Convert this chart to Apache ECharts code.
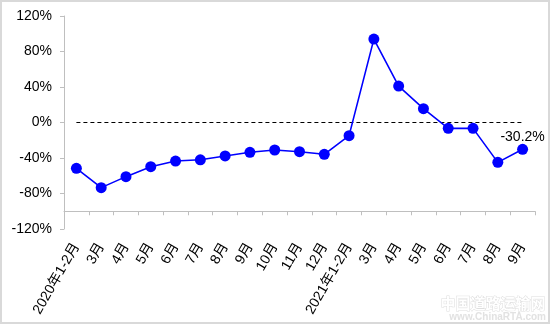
<!DOCTYPE html>
<html>
<head>
<meta charset="utf-8">
<script src="https://cdn.jsdelivr.net/npm/echarts@6/dist/echarts.min.js"></script>
<style>
html,body{margin:0;padding:0;background:#fff;}
#c{width:550px;height:324px;}
</style>
</head>
<body>
<div id="c"></div>
<script>
var categories = ['2020年1-2月','3月','4月','5月','6月','7月','8月','9月','10月','11月','12月','2021年1-2月','3月','4月','5月','6月','7月','8月','9月'];
var growthValues = [-51.6, -73.4, -61.0, -49.8, -43.4, -42.0, -37.7, -33.6, -31.0, -32.9, -35.8, -14.8, 94.0, 41.0, 15.6, -6.6, -6.6, -44.9, -30.2];
var zeroLine = [0,0,0,0,0,0,0,0,0,0,0,0,0,0,0,0,0,0,0];
var yTicks = {min: -120, max: 120, interval: 40};

var FONT = '"Liberation Sans", Arial, "Noto Sans CJK SC", sans-serif';
var chart = echarts.init(document.getElementById('c'), null, {renderer: 'canvas'});
var gridH = 213;
var option = {
  animation: false,
  backgroundColor: '#fff',
  textStyle: {fontFamily: FONT},
  grid: {left: 64, right: 15, top: 16, bottom: 95, containLabel: false},
  xAxis: {
    type: 'category',
    data: categories,
    boundaryGap: true,
    position: 'bottom',
    offset: -gridH * 20 / 240,
    axisLine: {onZero: false, lineStyle: {color: '#bfbfbf', width: 1}},
    axisTick: {show: true, length: 4, lineStyle: {color: '#bfbfbf'}},
    axisLabel: {rotate: 60, margin: 33, color: '#000', fontSize: 14, fontFamily: FONT, interval: 0}
  },
  yAxis: {
    type: 'value',
    min: yTicks.min, max: yTicks.max, interval: yTicks.interval,
    axisLine: {show: true, lineStyle: {color: '#bfbfbf', width: 1}},
    axisTick: {show: true, length: 4, lineStyle: {color: '#bfbfbf'}},
    splitLine: {show: false},
    axisLabel: {formatter: '{value}%', color: '#000', fontSize: 14, margin: 12, fontFamily: FONT}
  },
  series: [
    {
      type: 'line',
      data: zeroLine,
      symbol: 'none',
      lineStyle: {color: '#000', width: 1.2, type: [4, 3]},
      z: 1,
      silent: true
    },
    {
      type: 'line',
      data: growthValues,
      symbol: 'circle',
      symbolSize: 11,
      itemStyle: {color: '#0000ff'},
      lineStyle: {color: '#0000ff', width: 1.6},
      z: 3,
      label: {
        show: true,
        position: 'top',
        distance: 0,
        color: '#000',
        fontSize: 14,
        fontFamily: FONT,
        formatter: function (p) {
          return p.dataIndex === growthValues.length - 1 ? p.value.toFixed(1) + '%' : '';
        }
      }
    }
  ],
  graphic: [
    {type: 'rect', shape: {x: 1, y: 1, width: 548, height: 322}, style: {fill: 'none', stroke: '#d9d9d9', lineWidth: 2}, z: 100},
    {type: 'text', right: 4, bottom: 13, style: {text: '中国道路运输网', fill: '#ffffff', stroke: '#dedede', lineWidth: 1, font: 'bold 15px "Noto Sans CJK SC", sans-serif'}, z: 100},
    {type: 'text', right: 4, bottom: 2, style: {text: 'www.ChinaRTA.com', fill: '#e2e2e2', font: 'bold 10px "Liberation Sans", sans-serif'}, z: 100}
  ]
};
chart.setOption(option);
</script>
</body>
</html>
